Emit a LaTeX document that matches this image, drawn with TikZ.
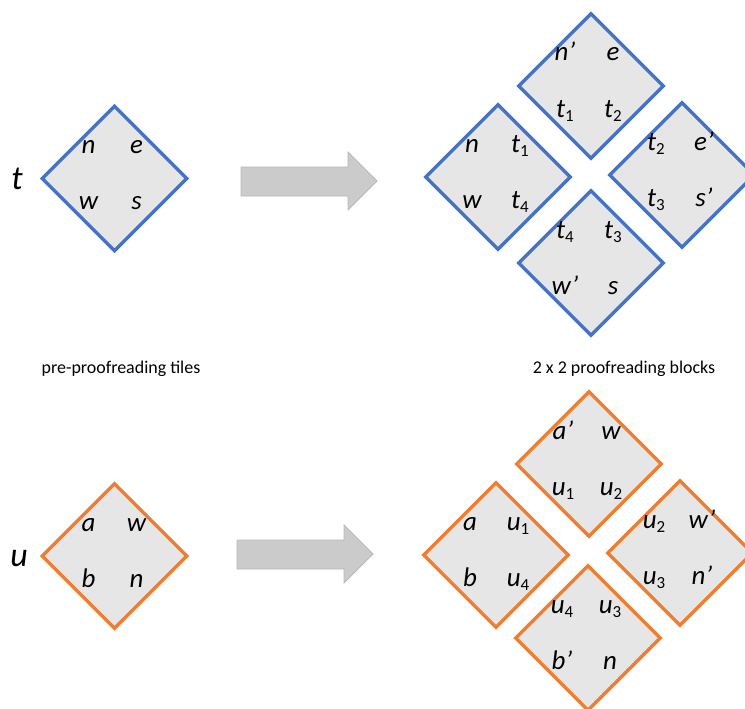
\documentclass[tikz,border=0pt]{standalone}
\usepackage{fontspec}
\setmainfont{Carlito}
\usetikzlibrary{shapes.geometric}
\definecolor{tblue}{HTML}{4472C4}
\definecolor{torange}{HTML}{ED7D31}
\definecolor{tfill}{HTML}{E7E6E6}
\definecolor{afill}{HTML}{CBCBCB}
\definecolor{aline}{HTML}{B8B8B8}
\newcommand\lsub[1]{\raisebox{-0.35ex}{\fontsize{17}{17}\selectfont\upshape #1}}
\newcommand\mytile[8]{%
  \node[tile, draw=#4] (#1) at (#2,#3) {};
  \node[lab] (#1-tl) at ([xshift=-26bp,yshift=25bp]#1.center) {#5};
  \node[lab] (#1-tr) at ([xshift=22bp,yshift=25bp]#1.center) {#6};
  \node[lab] (#1-bl) at ([xshift=-26bp,yshift=-31bp]#1.center) {#7};
  \node[lab] (#1-br) at ([xshift=22bp,yshift=-31bp]#1.center) {#8};
}
\tikzset{
  tile/.style={diamond, fill=tfill, line width=3.4bp, minimum width=146bp, minimum height=146bp, inner sep=0pt},
  lab/.style={anchor=base, inner sep=0pt, font=\fontsize{27}{27}\selectfont\itshape},
  biglab/.style={inner sep=0pt, font=\fontsize{34}{34}\selectfont\itshape},
  caption/.style={inner sep=0pt, font=\fontsize{18}{18}\selectfont},
  bigarrow/.style={fill=afill, draw=aline, line width=0.8bp},
}
\begin{document}
\begin{tikzpicture}[x=1bp,y=-1bp]
\useasboundingbox (0,0) rectangle (745,709);
\clip (0,0) rectangle (745,709);
% top row
\mytile{ts}{114.5}{178.5}{tblue}{n}{e}{w}{s}
\node[biglab] (tl) at (17,179) {t};
\draw[bigarrow] (241,167) -- (348,167) -- (348,152) -- (377,181) -- (348,210) -- (348,196) -- (241,196) -- cycle;
\mytile{tT}{591}{86}{tblue}{n’}{e}{t\lsub{1}}{t\lsub{2}}
\mytile{tL}{498}{177}{tblue}{n}{t\lsub{1}}{w}{t\lsub{4}}
\mytile{tR}{682}{175}{tblue}{t\lsub{2}}{e’}{t\lsub{3}}{s’}
\mytile{tB}{591}{263}{tblue}{t\lsub{4}}{t\lsub{3}}{w’}{s}
\node[caption] (c1) at (121,369) {pre-proofreading tiles};
\node[caption] (c2) at (624,369) {2 x 2 proofreading blocks};
% bottom row
\mytile{us}{114.5}{556}{torange}{a}{w}{b}{n}
\node[biglab] (ul) at (19,559) {u};
\draw[bigarrow] (237,540) -- (344,540) -- (344,525) -- (373,554) -- (344,583) -- (344,569) -- (237,569) -- cycle;
\mytile{uT}{589}{464}{torange}{a’}{w}{u\lsub{1}}{u\lsub{2}}
\mytile{uL}{496}{555}{torange}{a}{u\lsub{1}}{b}{u\lsub{4}}
\mytile{uR}{680}{553}{torange}{u\lsub{2}}{w’}{u\lsub{3}}{n’}
\mytile{uB}{588}{638}{torange}{u\lsub{4}}{u\lsub{3}}{b’}{n}
\end{tikzpicture}
\end{document}
